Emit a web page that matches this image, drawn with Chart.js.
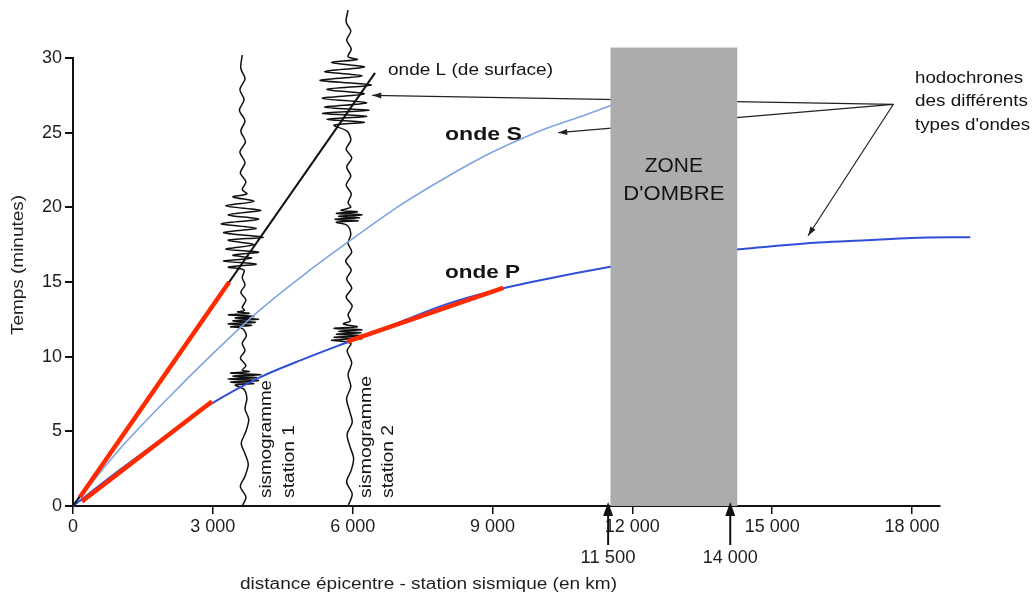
<!DOCTYPE html>
<html>
<head>
<meta charset="utf-8">
<script src="https://cdn.jsdelivr.net/npm/chart.js@4.4.1/dist/chart.umd.min.js"></script>
<style>
html, body { margin: 0; padding: 0; background: #fff; }
#wrap { width: 1033px; height: 597px; position: relative; }
</style>
</head>
<body>
<div id="wrap"><canvas id="myChart"></canvas></div>
<script>
// axes
var xTicks = [0, 3000, 6000, 9000, 12000, 15000, 18000];
var xTickLabels = ['0', '3 000', '6 000', '9 000', '12 000', '15 000', '18 000'];
var yTicks = [0, 5, 10, 15, 20, 25, 30];

// hodochrones : distance (km) -> temps (min)
var distP = [0, 1000, 2000, 3000, 4000, 5000, 6000, 7000, 8000, 9000, 10000, 11500, 12500, 14000, 15000, 16000, 17000, 18000, 19250];
var tempsP = [0, 2.4, 4.7, 6.9, 8.6, 9.9, 11.1, 12.3, 13.5, 14.4, 15.1, 16.0, 16.5, 17.1, 17.4, 17.65, 17.8, 17.95, 18.0];
var distS = [0, 1000, 2000, 3000, 4000, 5000, 6000, 7000, 8000, 9000, 10000, 11000, 11700];
var tempsS = [0, 3.8, 7.1, 10.2, 13.1, 15.6, 17.9, 20.1, 22.0, 23.7, 25.1, 26.2, 27.0];
var distL = [0, 6480];
var tempsL = [0, 29.0];

// traits rouges (pentes)
var red1Dist = [150, 3350], red1Temps = [0.6, 15.0];
var red2Dist = [190, 2980], red2Temps = [0.3, 7.0];
var red3Dist = [5880, 9230], red3Temps = [11.0, 14.6];

// sismogrammes (position de la station, temps, écart en km)
var sta1Km = 3630;
var seis1T = [0, 0.6, 1.3, 2.0, 2.8, 3.5, 4.2, 5.0, 5.8, 6.5, 7.2, 7.8, 8.1, 8.2, 8.3, 8.4, 8.5, 8.6, 8.7, 8.8, 8.9, 9.0, 9.1, 9.4, 9.9, 10.4, 10.9, 11.4, 11.9, 12.0, 12.1, 12.2, 12.3, 12.4, 12.5, 12.6, 12.7, 12.8, 12.9, 13.0, 13.1, 13.3, 13.8, 14.3, 14.8, 15.3, 15.8, 16.0, 16.2, 16.4, 16.6, 16.8, 17.0, 17.2, 17.5, 17.8, 18.0, 18.3, 18.6, 18.9, 19.2, 19.5, 19.8, 20.1, 20.4, 20.7, 20.9, 21.2, 21.7, 22.3, 23.0, 23.7, 24.4, 25.1, 25.8, 26.5, 27.2, 27.9, 28.6, 29.3, 30.2];
var seis1Dx = [0, 80, -40, 60, 130, 60, -20, 80, 140, 60, 100, 40, -150, 250, -250, 350, -300, 300, -200, 400, -250, 150, 0, 80, -40, 60, 0, 90, 0, -250, 200, -300, 280, -200, 350, -150, 250, -300, 150, -100, 50, 0, 80, -30, 60, 0, 40, -300, 300, -400, 200, -200, 350, -350, 250, -300, 450, -400, 300, -450, 350, -300, 400, -350, 250, -200, 100, 0, 80, -40, 60, -50, 70, -30, 60, -60, 40, -50, 60, -30, 0];
var sta2Km = 5900;
var seis2T = [0, 0.8, 1.6, 2.4, 3.2, 4.0, 4.8, 5.6, 6.4, 7.2, 8.0, 8.8, 9.6, 10.4, 10.9, 11.1, 11.2, 11.3, 11.4, 11.5, 11.6, 11.7, 11.8, 11.9, 12.0, 12.2, 12.4, 12.8, 13.4, 14.0, 14.6, 15.2, 15.8, 16.4, 17.0, 17.6, 18.2, 18.8, 19.0, 19.1, 19.2, 19.3, 19.4, 19.5, 19.6, 19.7, 19.8, 20.0, 20.3, 20.9, 21.5, 22.1, 22.7, 23.3, 23.9, 24.5, 25.1, 25.5, 25.7, 25.9, 26.1, 26.3, 26.5, 26.7, 27.0, 27.3, 27.6, 27.9, 28.2, 28.5, 28.8, 29.1, 29.4, 29.7, 29.9, 30.1, 30.6, 31.2, 31.8, 32.4, 33.2];
var seis2Dx = [0, 90, -30, 70, 120, 40, -20, 90, 30, -30, 60, 0, 80, -20, 60, -350, 300, -300, 350, -250, 280, -200, 300, -300, 200, -100, 50, 0, 90, -40, 80, -30, 70, -50, 80, 0, 60, -20, -250, 220, -280, 250, -200, 300, -250, 200, -150, 60, 0, 70, -40, 60, -30, 80, -40, 60, -20, -300, 350, -450, 400, -550, 450, -500, 400, -550, 350, -450, 500, -600, 300, -500, 350, -350, 200, 0, 70, -30, 60, -40, 0];

// zone d'ombre et repères
var zoneKm = [11530, 14250];
var zoneTop = 30.7;
var limitKm = [11480, 14100];
var limitLabels = ['11 500', '14 000'];

// flèches "hodochrones"
var hodoFrom = [17600, 26.9];
var hodoToKm = [6420, 10410, 15770];
var hodoToMin = [27.5, 25.0, 18.1];

var FONT = '"Liberation Sans", Arial, Helvetica, sans-serif';

function pts(xs, ys) {
    return xs.map(function (v, i) { return { x: v, y: ys[i] }; });
}
function seis(base, ts, dx) {
    return ts.map(function (t, i) { return { x: base + dx[i], y: t }; });
}

function label(ctx, s, x, y, o) {
    ctx.save();
    ctx.font = (o.bold ? 'bold ' : '') + o.size + 'px ' + FONT;
    ctx.fillStyle = o.color || '#141414';
    ctx.textBaseline = 'middle';
    ctx.textAlign = 'left';
    var w = ctx.measureText(s).width;
    var sx = o.width ? o.width / w : 1;
    ctx.translate(x, y);
    if (o.rot) ctx.rotate(o.rot);
    ctx.scale(sx, 1);
    ctx.fillText(s, o.center ? -w / 2 : 0, 0);
    ctx.restore();
}

function arrowHead(ctx, x0, y0, x1, y1, len, half) {
    var a = Math.atan2(y1 - y0, x1 - x0);
    ctx.beginPath();
    ctx.moveTo(x1, y1);
    ctx.lineTo(x1 - len * Math.cos(a) + half * Math.sin(a), y1 - len * Math.sin(a) - half * Math.cos(a));
    ctx.lineTo(x1 - len * Math.cos(a) - half * Math.sin(a), y1 - len * Math.sin(a) + half * Math.cos(a));
    ctx.closePath();
    ctx.fill();
}

// annotations : flèches, zone d'ombre, textes
var annot = {
    id: 'annot',
    afterDatasetsDraw: function (chart) {
        var ctx = chart.ctx;
        var sx = chart.scales.x, sy = chart.scales.y;
        var px = function (v) { return sx.getPixelForValue(v); };
        var py = function (v) { return sy.getPixelForValue(v); };

        // flèches vers les hodochrones
        ctx.save();
        ctx.strokeStyle = '#222';
        ctx.fillStyle = '#222';
        ctx.lineWidth = 1.2;
        var fx = px(hodoFrom[0]), fy = py(hodoFrom[1]);
        hodoToKm.forEach(function (k, i) {
            var tx = px(k), ty = py(hodoToMin[i]);
            ctx.beginPath();
            ctx.moveTo(fx, fy);
            ctx.lineTo(tx, ty);
            ctx.stroke();
            arrowHead(ctx, fx, fy, tx, ty, 9, 3);
        });
        ctx.restore();

        // zone d'ombre
        ctx.save();
        var zx0 = px(zoneKm[0]), zx1 = px(zoneKm[1]);
        var zy0 = py(zoneTop), zy1 = py(0);
        ctx.fillStyle = '#acacae';
        ctx.fillRect(zx0, zy0, zx1 - zx0, zy1 - zy0);
        ctx.restore();
        label(ctx, 'ZONE', (zx0 + zx1) / 2, 166, { size: 21, width: 58, center: true });
        label(ctx, "D'OMBRE", (zx0 + zx1) / 2, 194, { size: 21, width: 101, center: true });

        // flèches 11 500 / 14 000
        ctx.save();
        ctx.strokeStyle = '#111';
        ctx.fillStyle = '#111';
        ctx.lineWidth = 2;
        limitKm.forEach(function (k, i) {
            var x = px(k);
            ctx.beginPath();
            ctx.moveTo(x, 545);
            ctx.lineTo(x, 512);
            ctx.stroke();
            arrowHead(ctx, x, 545, x, 502, 14, 5);
            label(ctx, limitLabels[i], x, 558, { size: 18, width: 55, center: true, color: '#1e1e1e' });
        });
        ctx.restore();

        // textes
        label(ctx, 'onde L (de surface)', 388, 70, { size: 17, width: 165 });
        label(ctx, 'onde S', 445, 135, { size: 19, bold: true, width: 77 });
        label(ctx, 'onde P', 445, 273, { size: 19, bold: true, width: 75 });
        label(ctx, 'hodochrones', 915, 79, { size: 16, width: 108 });
        label(ctx, 'des différents', 915, 102, { size: 16, width: 113 });
        label(ctx, "types d'ondes", 915, 126, { size: 16, width: 115 });
        label(ctx, 'sismogramme', 267, 498, { size: 16, width: 118, rot: -Math.PI / 2 });
        label(ctx, 'station 1', 290, 498, { size: 16, width: 73, rot: -Math.PI / 2 });
        label(ctx, 'sismogramme', 367, 498, { size: 16, width: 122, rot: -Math.PI / 2 });
        label(ctx, 'station 2', 389, 498, { size: 16, width: 73, rot: -Math.PI / 2 });
        label(ctx, 'distance épicentre - station sismique (en km)', 240, 585, { size: 16, width: 377, color: '#1e1e1e' });
        label(ctx, 'Temps (minutes)', 19, 265, { size: 16, width: 140, center: true, rot: -Math.PI / 2, color: '#1e1e1e' });
    }
};

const data = {
    datasets: [
        { data: pts(red1Dist, red1Temps), borderColor: '#ff2a00', borderWidth: 4.5, borderCapStyle: 'butt' },
        { data: pts(red2Dist, red2Temps), borderColor: '#ff2a00', borderWidth: 4.5, borderCapStyle: 'butt' },
        { data: pts(red3Dist, red3Temps), borderColor: '#ff2a00', borderWidth: 4.5, borderCapStyle: 'butt' },
        { data: pts(distL, tempsL), borderColor: '#111', borderWidth: 2 },
        { data: pts(distP, tempsP), borderColor: '#2f4fd8', borderWidth: 2, cubicInterpolationMode: 'monotone', clip: false },
        { data: pts(distS, tempsS), borderColor: '#7ea4e2', borderWidth: 1.6, cubicInterpolationMode: 'monotone' },
        { data: seis(sta1Km, seis1T, seis1Dx), borderColor: '#111', borderWidth: 1.5, tension: 0.3, clip: false },
        { data: seis(sta2Km, seis2T, seis2Dx), borderColor: '#111', borderWidth: 1.5, tension: 0.3, clip: false }
    ]
};

const config = {
    type: 'line',
    data: data,
    options: {
        responsive: true,
        maintainAspectRatio: false,
        animation: false,
        events: [],
        layout: { padding: { top: 58, right: 93, left: 0, bottom: 0 } },
        elements: { point: { radius: 0 }, line: { fill: false } },
        plugins: { legend: { display: false }, tooltip: { enabled: false } },
        scales: {
            x: {
                type: 'linear',
                min: 0,
                max: 18600,
                afterBuildTicks: function (s) { s.ticks = xTicks.map(function (v) { return { value: v }; }); },
                afterFit: function (s) { s.height = 91; },
                grid: { drawOnChartArea: false, tickLength: 8, color: '#111', lineWidth: 1.5 },
                border: { color: '#111', width: 2 },
                ticks: {
                    font: { family: FONT, size: 18 },
                    color: '#1e1e1e',
                    padding: 2,
                    maxRotation: 0,
                    autoSkip: false,
                    callback: function (v) { return xTickLabels[xTicks.indexOf(v)]; }
                }
            },
            y: {
                min: 0,
                max: 30,
                afterBuildTicks: function (s) { s.ticks = yTicks.map(function (v) { return { value: v }; }); },
                afterFit: function (s) { s.width = 73; },
                grid: { drawOnChartArea: false, tickLength: 8, color: '#111', lineWidth: 2 },
                border: { color: '#111', width: 2 },
                ticks: { font: { family: FONT, size: 18 }, color: '#1e1e1e', padding: 3 }
            }
        }
    },
    plugins: [annot]
};

const myChart = new Chart(document.getElementById('myChart'), config);
</script>
</body>
</html>
